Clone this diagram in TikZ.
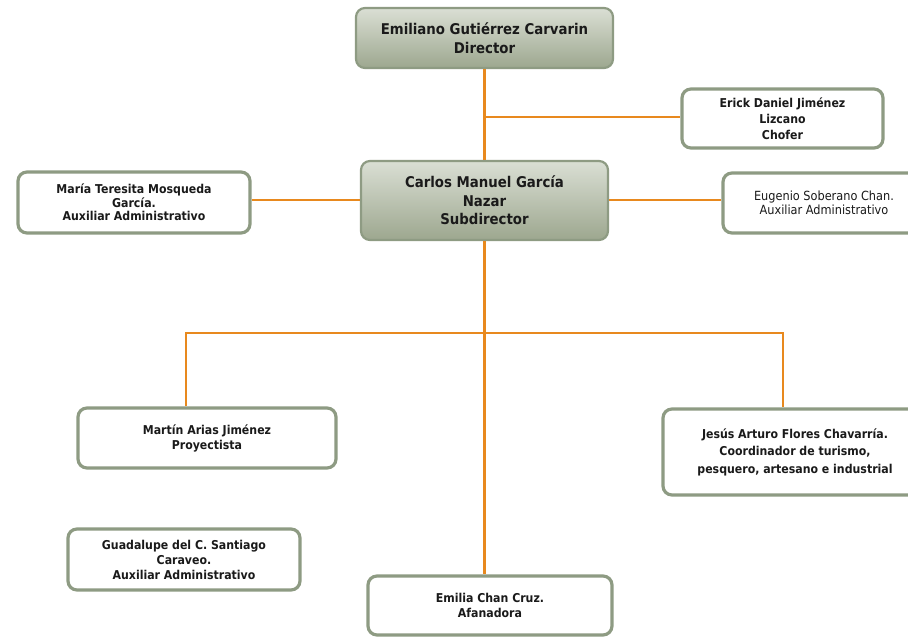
\documentclass[tikz,border=0pt]{standalone}
\usepackage{fontspec}
\setmainfont{DejaVu Sans Condensed}
\usetikzlibrary{positioning,calc}
\definecolor{orgline}{HTML}{E8891E}
\definecolor{boxedge}{HTML}{8E9B83}
\definecolor{headtop}{HTML}{DADFD4}
\definecolor{headbot}{HTML}{9DA78F}
\definecolor{inkc}{HTML}{1A1A1A}
\tikzset{
  headbox/.style={draw=boxedge, line width=2.2pt, rounded corners=9pt, top color=headtop, bottom color=headbot, align=center, font=\bfseries\fontsize{14.8}{18.5}\selectfont, text=inkc},
  staffbox/.style={draw=boxedge, line width=3.2pt, rounded corners=9pt, fill=white, align=center, font=\bfseries\fontsize{12.2}{15}\selectfont, text=inkc},
  link/.style={draw=orgline, line width=2.2pt}
}
\begin{document}
\begin{tikzpicture}[x=1pt,y=-1pt]
	\useasboundingbox (0,0) rectangle (908,637);
	% jefes
	\node[headbox, minimum width=257pt, minimum height=60pt] (dir) at (484.5,38) {Emiliano Gutiérrez Carvarin\\Director};
	\node[headbox, minimum width=247pt, minimum height=79pt] (sub) at (484.5,200.5) {Carlos Manuel García\\Nazar\\Subdirector};
	% personal
	\node[staffbox, font=\bfseries\fontsize{12.2}{16}\selectfont, minimum width=201pt, minimum height=59pt] (chofer) at (782.5,118.5) {Erick Daniel Jiménez\\Lizcano\\Chofer};
	\node[staffbox, font=\bfseries\fontsize{12.2}{13.6}\selectfont, minimum width=232pt, minimum height=61pt] (maria) at (134,202.5) {María Teresita Mosqueda\\García.\\Auxiliar Administrativo};
	\node[staffbox, font=\fontsize{12.6}{14}\selectfont, minimum width=202pt, minimum height=60pt] (eugenio) at (824,203) {Eugenio Soberano Chan.\\Auxiliar Administrativo};
	\node[staffbox, minimum width=258pt, minimum height=60pt] (martin) at (207,438) {Martín Arias Jiménez\\Proyectista};
	\node[staffbox, font=\bfseries\fontsize{12.2}{17.5}\selectfont, minimum width=264pt, minimum height=86pt] (jesus) at (795,452) {Jesús Arturo Flores Chavarría.\\Coordinador de turismo,\\pesquero, artesano e industrial};
	\node[staffbox, minimum width=232pt, minimum height=61pt] (guada) at (184,559.5) {Guadalupe del C. Santiago\\Caraveo.\\Auxiliar Administrativo};
	\node[staffbox, minimum width=244pt, minimum height=59pt] (emilia) at (490,605.5) {Emilia Chan Cruz.\\Afanadora};
	% lineas
	\coordinate (busL) at (186,333);
	\coordinate (busR) at (783,333);
	\draw[link] (dir.south) -- (sub.north);
	\draw[link] (dir.south |- 0,117) -- (chofer.west |- 0,117);
	\draw[link] (maria.east |- 0,200) -- (sub.west |- 0,200);
	\draw[link] (sub.east |- 0,200) -- (eugenio.west |- 0,200);
	\draw[link] (sub.south) -- (sub.south |- emilia.north);
	\draw[link] (martin.north -| busL) -- (busL) -- (busR) -- (jesus.north -| busR);
\end{tikzpicture}
\end{document}
